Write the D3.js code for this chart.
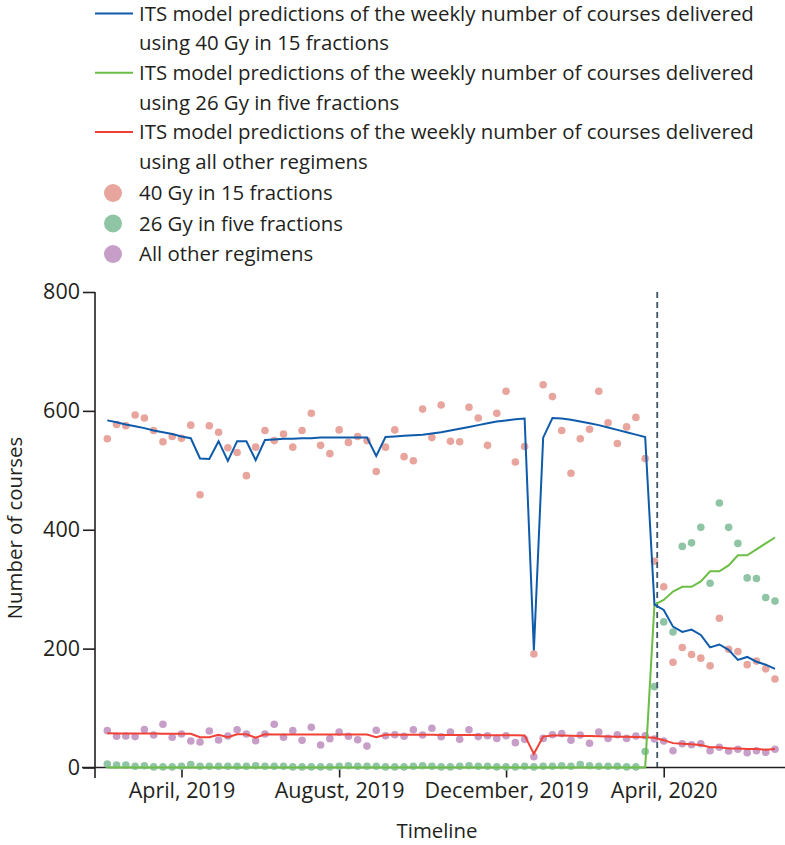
<!DOCTYPE html>
<html><head><meta charset="utf-8">
<script src="https://cdn.jsdelivr.net/npm/d3@7"></script>
<style>
body{margin:0;background:#fff;}
text{font-family:"Open Sans",sans-serif;fill:#231f20;}
</style></head>
<body>
<svg id="c" width="785" height="845"></svg>
<script>
const weeks = d3.range(73);
const tickWeeks = [8, 25, 43, 60];
const tickLabels = ["April, 2019", "August, 2019", "December, 2019", "April, 2020"];
const yTicks = [0, 200, 400, 600, 800];
const lockdownWeek = 59.3;

const dots40 = [553,577,575,593,588,567,548,557,554,576,459,575,564,538,530,491,539,567,550,561,539,567,596,542,528,568,547,557,550,498,539,568,523,516,603,555,610,549,548,606,588,542,596,633,514,540,191,644,624,567,495,553,569,633,580,545,573,589,520,347,304,177,202,190,184,171,251,199,195,173,179,166,149];
const dots26 = [6,4,4,2,3,1,1,1,2,5,2,2,2,2,2,2,3,2,2,2,1,1,1,1,1,2,3,2,2,2,1,1,1,2,3,2,1,1,2,3,2,2,1,1,1,2,1,2,2,3,2,5,3,2,2,2,1,1,27,136,245,228,372,378,404,310,445,404,377,319,318,286,280];
const dotsOther = [62,52.5,53,52,64,54.7,72.7,50.8,56.4,44.6,43,61.4,46.3,53,63.6,56.4,45,56.4,72.7,50.8,62,45.7,67.6,37.8,48.5,59.7,52.5,46.8,36,62.6,53.5,55,52.5,63.6,54.7,66,51.7,59.7,47.4,63.6,52,53.5,49,53.5,41.8,47.4,18.2,49,55,57,46,54.7,40.7,59.7,49,55,49,53,53.5,48,44.6,28.3,40,38.4,40,28.3,34,27.8,30.6,25,28.3,25.6,30.6];

const pred40 = [584,581,577,574,571,567,564,561,557,554,520,519,549,516,549,549,517,551,552,553,553,554,554,555,555,555,555,555,555,524,556,557,558,559,560,562,564,567,570,573,576,579,582,584,586,587,197,555,588,587,585,582,579,576,572,568,564,560,556,274,265,237,228,232,223,202,207,198,181,186,178,173,166];
const pred26 = [0,0,0,0,0,0,0,0,0,0,0,0,0,0,0,0,0,0,0,0,0,0,0,0,0,0,0,0,0,0,0,0,0,0,0,0,0,0,0,0,0,0,0,0,0,0,0,0,0,0,0,0,0,0,0,0,0,0,0,274,282,296,304,304,313,330,330,340,357,357,367,377,387];
const predOther = [57.5,57.4,57.3,57.2,57.1,57,56.9,56.8,56.7,56.6,51,51,55,51,56,56,50,56,55.5,55.5,55.5,55.5,55.5,55.5,55.5,55.5,55.5,55.5,55.5,51,55,55,55,55,54.9,54.9,54.8,54.8,54.7,54.6,54.5,54.4,54.3,54.2,54.1,54,23,52,54,53.7,53.4,53.1,52.8,52.5,52.2,51.9,51.6,51.3,51,50,46,41,40,39,38,34,34,32,32,31,31,30,31];

const legendLines = [
  {color:"#0f5bab", lines:["ITS model predictions of the weekly number of courses delivered","using 40 Gy in 15 fractions"]},
  {color:"#6cbd45", lines:["ITS model predictions of the weekly number of courses delivered","using 26 Gy in five fractions"]},
  {color:"#ef4136", lines:["ITS model predictions of the weekly number of courses delivered","using all other regimens"]}
];
const legendDots = [
  {color:"#e8a59e", label:"40 Gy in 15 fractions"},
  {color:"#8fc5a5", label:"26 Gy in five fractions"},
  {color:"#c79ec8", label:"All other regimens"}
];

const svg = d3.select("#c");
const x = d3.scaleLinear().domain([0, 72]).range([107.3, 775]);
const y = d3.scaleLinear().domain([0, 800]).range([767.5, 292]);
const axisColor = "#231f20";
const fs = 20.4;

// Legend
legendLines.forEach((d, i) => {
  const y0 = 13.5 + i * 59.3;
  svg.append("line").attr("x1", 95).attr("x2", 133).attr("y1", y0).attr("y2", y0)
    .attr("stroke", d.color).attr("stroke-width", 2);
  d.lines.forEach((t, j) => {
    svg.append("text").attr("x", 139).attr("y", y0 + j * 29.7).attr("dy", "0.35em")
      .attr("font-size", fs).text(t);
  });
});
legendDots.forEach((d, i) => {
  const y0 = 193 + i * 30.5;
  svg.append("circle").attr("cx", 113).attr("cy", y0).attr("r", 9).attr("fill", d.color);
  svg.append("text").attr("x", 139).attr("y", y0).attr("dy", "0.35em").attr("font-size", fs).text(d.label);
});

// Y axis
const gy = svg.append("g").attr("transform", "translate(95,0)")
  .call(d3.axisLeft(y).tickValues(yTicks).tickSize(12).tickPadding(3).tickSizeOuter(0));
gy.select(".domain").remove();
gy.append("line").attr("x1", 0).attr("x2", 0).attr("y1", 292).attr("y2", 778).attr("stroke", axisColor).attr("stroke-width", 1.6);
gy.selectAll(".tick line").attr("stroke", axisColor).attr("stroke-width", 1.6);
gy.selectAll(".tick text").attr("font-size", 21.5).attr("fill", axisColor).attr("font-family", "Open Sans");

// X axis
const xTickScale = d3.scaleOrdinal().domain(tickWeeks).range(tickLabels);
const gx = svg.append("g").attr("transform", "translate(0,767.5)")
  .call(d3.axisBottom(x).tickValues(tickWeeks).tickFormat(d => xTickScale(d)).tickSize(10).tickPadding(5).tickSizeOuter(0));
gx.select(".domain").remove();
gx.append("line").attr("x1", 82).attr("x2", 785).attr("y1", 0).attr("y2", 0).attr("stroke", axisColor).attr("stroke-width", 1.6);
gx.selectAll(".tick line").attr("stroke", axisColor).attr("stroke-width", 1.6);
gx.selectAll(".tick text").attr("font-size", 21.5).attr("fill", axisColor).attr("font-family", "Open Sans");

// Axis titles
svg.append("text").attr("transform", "translate(15,528) rotate(-90)").attr("text-anchor", "middle")
  .attr("dy", "0.35em").attr("font-size", fs).text("Number of courses");
svg.append("text").attr("x", 437).attr("y", 831).attr("text-anchor", "middle")
  .attr("dy", "0.35em").attr("font-size", fs).text("Timeline");

// Dots
const drawDots = (vals, color) => {
  svg.append("g").selectAll("circle").data(vals).join("circle")
    .attr("cx", (d, i) => x(weeks[i])).attr("cy", d => y(d)).attr("r", 3.8).attr("fill", color);
};
drawDots(dots40, legendDots[0].color);
drawDots(dotsOther, legendDots[2].color);
drawDots(dots26, legendDots[1].color);

// Dashed line
svg.append("line").attr("x1", x(lockdownWeek)).attr("x2", x(lockdownWeek)).attr("y1", 292).attr("y2", 767)
  .attr("stroke", "#3e5566").attr("stroke-width", 1.8).attr("stroke-dasharray", "6,4");

// Lines
const line = d3.line().x((d, i) => x(weeks[i])).y(d => y(d));
[[predOther, legendLines[2].color], [pred26, legendLines[1].color], [pred40, legendLines[0].color]].forEach(([v, c]) => {
  svg.append("path").datum(v).attr("d", line).attr("fill", "none").attr("stroke", c).attr("stroke-width", 2);
});
</script>
</body></html>
